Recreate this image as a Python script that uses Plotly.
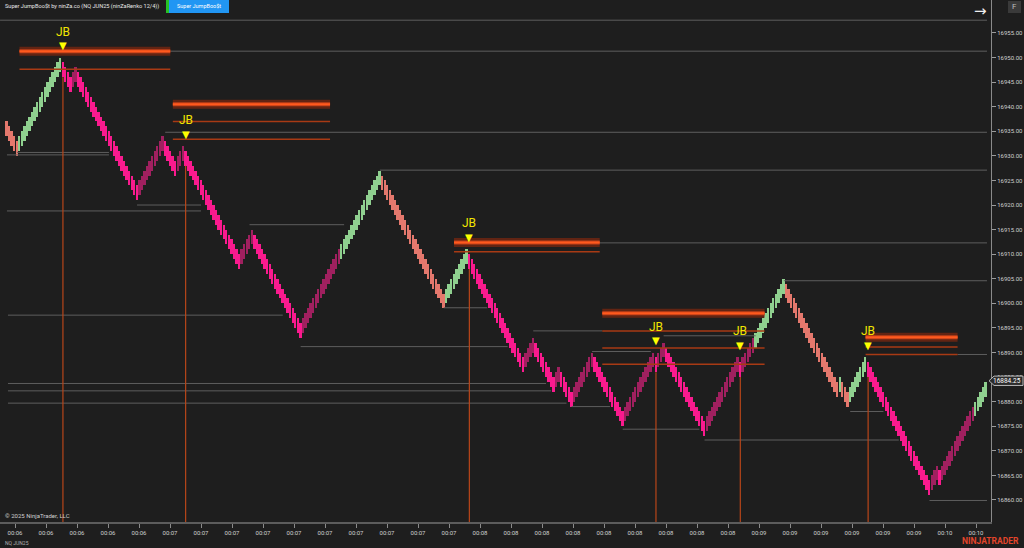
import plotly.graph_objects as go

# ---------------- data ----------------
close = [
    16934, 16933, 16932, 16931, 16930,
    16934, 16935, 16936, 16937, 16938, 16939, 16940, 16941, 16942, 16943, 16944, 16945, 16946, 16947, 16948, 16949, 16950,
    16946, 16945, 16944, 16943,
    16947, 16948,
    16944, 16943, 16942, 16941, 16940, 16939, 16938, 16937, 16936, 16935, 16934, 16933, 16932, 16931, 16930, 16929,
    16928, 16927, 16926, 16925, 16924, 16923, 16922, 16921,
    16925, 16926, 16927, 16928, 16929, 16930, 16931, 16932, 16933, 16934,
    16930, 16929, 16928, 16927, 16926,
    16930, 16931, 16932,
    16928, 16927, 16926, 16925, 16924, 16923, 16922, 16921, 16920, 16919, 16918, 16917, 16916, 16915, 16914, 16913,
    16912, 16911, 16910, 16909, 16908, 16907,
    16911, 16912, 16913, 16914, 16915,
    16911, 16910, 16909, 16908, 16907, 16906, 16905, 16904, 16903, 16902, 16901, 16900, 16899, 16898, 16897, 16896,
    16895, 16894, 16893,
    16897, 16898, 16899, 16900, 16901, 16902, 16903, 16904, 16905, 16906, 16907, 16908, 16909, 16910, 16911, 16912,
    16913, 16914, 16915, 16916, 16917, 16918, 16919, 16920, 16921, 16922, 16923, 16924, 16925, 16926, 16927,
    16923, 16922, 16921, 16920, 16919, 16918, 16917, 16916, 16915, 16914, 16913, 16912, 16911, 16910, 16909, 16908,
    16907, 16906, 16905, 16904, 16903, 16902, 16901, 16900, 16899,
    16903, 16904, 16905, 16906, 16907, 16908, 16909, 16910, 16911,
    16907, 16906, 16905, 16904, 16903, 16902, 16901, 16900, 16899, 16898, 16897, 16896, 16895, 16894, 16893, 16892,
    16891, 16890, 16889, 16888, 16887, 16886,
    16890, 16891, 16892, 16893,
    16889, 16888, 16887, 16886, 16885, 16884, 16883, 16882,
    16886, 16887,
    16883, 16882, 16881, 16880, 16879,
    16883, 16884, 16885, 16886, 16887, 16888, 16889, 16890,
    16886, 16885, 16884, 16883, 16882, 16881, 16880, 16879, 16878, 16877, 16876, 16875,
    16879, 16880, 16881, 16882, 16883, 16884, 16885, 16886, 16887, 16888, 16889, 16890,
    16886,
    16890, 16891, 16892,
    16888, 16887, 16886, 16885, 16884, 16883, 16882, 16881, 16880, 16879, 16878, 16877, 16876, 16875, 16874, 16873,
    16877, 16878, 16879, 16880, 16881, 16882, 16883, 16884, 16885, 16886, 16887, 16888, 16889,
    16885,
    16889, 16890, 16891, 16892, 16893, 16894, 16895, 16896, 16897, 16898, 16899, 16900, 16901, 16902, 16903, 16904, 16905,
    16901, 16900, 16899, 16898, 16897, 16896, 16895, 16894, 16893, 16892, 16891, 16890, 16889, 16888, 16887, 16886,
    16885, 16884, 16883, 16882, 16881,
    16885,
    16881, 16880, 16879,
    16883, 16884, 16885, 16886, 16887, 16888, 16889,
    16885, 16884, 16883, 16882, 16881, 16880, 16879, 16878, 16877, 16876, 16875, 16874, 16873, 16872, 16871, 16870,
    16869, 16868, 16867, 16866, 16865, 16864, 16863, 16862, 16861,
    16865, 16866, 16867,
    16863,
    16867, 16868, 16869, 16870, 16871, 16872, 16873, 16874, 16875, 16876, 16877, 16878, 16879, 16880, 16881, 16882,
    16883, 16884,
]
brick = 3
last_price = 16884.25

zone_start = [0, 22, 131, 181, 293, 337, 379]
zone_kind = ["bull", "bear", "bull", "bear", "bull", "bear", "bull"]

jb_bars = [22, 70, 181, 254, 287, 337]

gray_x0 = [-2.6, 64, 62, 4, 0.1, 51, 0.1, 146, 95, 180, 304, 0.5, 171, 115, 206, 229, 257, 0.5, 0.5, 0.5, 221, 241, 273, 330, 361, 372]
gray_x1 = [383.5, 383.5, 383.5, 40, 40, 76, 76, 383.5, 132, 383.5, 383.5, 108, 188, 196, 233, 252, 293, 211, 213, 219, 236, 271, 349, 343, 383.5, 383.5]
gray_y = [16957.6, 16951.3, 16934.8, 16930.7, 16930.2, 16920.0, 16918.8, 16927.1, 16916.0, 16912.3, 16904.6, 16897.6,
          16899.1, 16891.2, 16894.4, 16890.2, 16893.4, 16883.7, 16882.2, 16879.7, 16879.0, 16874.4, 16872.2, 16878.0,
          16859.9, 16889.6]

band_x0 = [5, 65, 175, 233, 336]
band_x1 = [64, 126.5, 232, 296.5, 372]
band_y = [16951.3, 16940.5, 16912.4, 16898.0, 16893.1]
thin_of = [0, 1, 1, 2, 3, 3, 3, 4, 4]
thin_y = [16947.6, 16937.0, 16933.4, 16910.5, 16894.4, 16890.9, 16887.6, 16891.1, 16889.6]

y_ticks = [16860, 16865, 16870, 16875, 16880, 16885, 16890, 16895, 16900, 16905, 16910, 16915, 16920, 16925,
           16930, 16935, 16940, 16945, 16950, 16955]
x_tick_text = ["00:06", "00:06", "00:06", "00:06", "00:06",
               "00:07", "00:07", "00:07", "00:07", "00:07", "00:07", "00:07", "00:07", "00:07", "00:07",
               "00:08", "00:08", "00:08", "00:08", "00:08", "00:08", "00:08", "00:08", "00:08",
               "00:09", "00:09", "00:09", "00:09", "00:09", "00:09",
               "00:10", "00:10"]

# ---------------- layout geometry ----------------
W, H = 1024, 548
PLOT_W, PLOT_H = 991, 522
FIRST_PX, LAST_PX = 6.7, 985.7
n = len(close)
bar_px = (LAST_PX - FIRST_PX) / (n - 1)
x_range = [-FIRST_PX / bar_px, (PLOT_W - FIRST_PX) / bar_px]
y_range = [16855.52, 16961.71]
tick_pos = [(15 + 31 * k - FIRST_PX) / bar_px for k in range(len(x_tick_text))]

BG = "#1e1e1e"
COLORS = {("bull", True): "#8fd08f", ("bull", False): "#e4786d",
          ("bear", True): "#a0205f", ("bear", False): "#fa1a8e"}


def zone_of(i):
    k = 0
    for j, s in enumerate(zone_start):
        if i >= s:
            k = j
    return zone_kind[k]


up = [i > 0 and close[i] > close[i - 1] for i in range(n)]
body_lo = [c - brick if u else c for c, u in zip(close, up)]
colors = [COLORS[(zone_of(i), up[i])] for i in range(n)]

fig = go.Figure()


def seg_trace(x0s, x1s, ys, color, width):
    xs, yy = [], []
    for a, b, y in zip(x0s, x1s, ys):
        xs += [a, b, None]
        yy += [y, y, None]
    return go.Scatter(x=xs, y=yy, mode="lines", line=dict(color=color, width=width),
                      hoverinfo="skip", showlegend=False)


# gray level lines
fig.add_trace(seg_trace(gray_x0, gray_x1, gray_y, "#5e5e5e", 1))

# thin orange lines
fig.add_trace(seg_trace([band_x0[k] for k in thin_of], [band_x1[k] for k in thin_of], thin_y, "#a83a14", 1.5))

# thick bands
fig.add_trace(seg_trace(band_x0, band_x1, band_y, "rgba(110,38,18,0.85)", 9))
fig.add_trace(seg_trace(band_x0, band_x1, band_y, "#c2401a", 4))
fig.add_trace(seg_trace(band_x0, band_x1, band_y, "#ff5a1e", 2))

# vertical JB lines
vx, vy = [], []
for j in jb_bars:
    vx += [j, j, None]
    vy += [close[j], y_range[0], None]
fig.add_trace(go.Scatter(x=vx, y=vy, mode="lines", line=dict(color="#b8461a", width=1.2),
                         hoverinfo="skip", showlegend=False))

# renko bricks
fig.add_trace(go.Bar(x=list(range(n)), y=[brick] * n, base=body_lo, width=0.72,
                     marker=dict(color=colors, line=dict(width=0)), hoverinfo="skip", showlegend=False))

annotations = []
for j in jb_bars:
    hi = max(close[j - 1], close[j] + brick)
    annotations.append(dict(x=j, y=hi, xref="x", yref="y", text="▼", showarrow=False,
                            font=dict(color="#ffff00", size=10, family="DejaVu Sans"), yshift=12))
    annotations.append(dict(x=j, y=hi, xref="x", yref="y", text="JB", showarrow=False,
                            font=dict(color="#f2e400", size=12, family="Roboto"), yshift=26))


def px(x):
    return x / PLOT_W


def py(y):
    return 1 - y / PLOT_H


annotations += [
    dict(x=px(3), y=py(6.5), xref="paper", yref="paper", xanchor="left", yanchor="middle", showarrow=False,
         text="Super JumpBoo$t by ninZa.co (NQ JUN25 (ninZaRenko 12/4))",
         font=dict(color="#e6e6e6", size=5.6, family="Roboto")),
    dict(x=px(199), y=py(6.5), xref="paper", yref="paper", xanchor="center", yanchor="middle", showarrow=False,
         text="Super JumpBoo$t", font=dict(color="#ffffff", size=5.5, family="Roboto")),
    dict(x=px(980), y=py(11), xref="paper", yref="paper", xanchor="center", yanchor="middle", showarrow=False,
         text="→", font=dict(color="#f0f0f0", size=15, family="DejaVu Sans")),
    dict(x=px(1014.5), y=py(6.5), xref="paper", yref="paper", xanchor="center", yanchor="middle", showarrow=False,
         text="F", font=dict(color="#bdbdbd", size=8, family="Roboto")),
    dict(x=px(3), y=py(515), xref="paper", yref="paper", xanchor="left", yanchor="middle", showarrow=False,
         text="© 2025 NinjaTrader, LLC", font=dict(color="#cfcfcf", size=6, family="Roboto")),
    dict(x=px(3), y=py(543), xref="paper", yref="paper", xanchor="left", yanchor="middle", showarrow=False,
         text="NQ JUN25", font=dict(color="#b0b0b0", size=5, family="Roboto")),
    dict(x=px(1021), y=py(541), xref="paper", yref="paper", xanchor="right", yanchor="middle", showarrow=False,
         text="<b>NINJATRADER</b>", font=dict(color="#e2452b", size=8.5, family="Roboto")),
    dict(x=px(1007), y=last_price, xref="paper", yref="y", xanchor="center", yanchor="middle", showarrow=False,
         text=f"{last_price:.2f}", font=dict(color="#ffffff", size=6.5, family="Roboto")),
]

shapes = [
    dict(type="rect", xref="paper", yref="paper", x0=px(166), x1=px(169), y0=py(13), y1=py(0),
         fillcolor="#27c227", line=dict(width=0)),
    dict(type="rect", xref="paper", yref="paper", x0=px(169), x1=px(229), y0=py(13), y1=py(0),
         fillcolor="#2196f3", line=dict(width=0)),
    dict(type="rect", xref="paper", yref="paper", x0=px(1008), x1=px(1021), y0=py(13), y1=py(1),
         fillcolor="#3a3a3a", line=dict(width=0)),
    dict(type="path", xref="paper", yref="y", layer="above",
         path=(f"M {px(989)},{last_price} L {px(994)},{last_price + 0.95} L {px(1023)},{last_price + 0.95} "
               f"L {px(1023)},{last_price - 0.95} L {px(994)},{last_price - 0.95} Z"),
         fillcolor="#2c2c2c", line=dict(color="#b8b8b8", width=1)),
]

fig.update_layout(
    width=W, height=H,
    margin=dict(l=0, r=W - PLOT_W, t=0, b=H - PLOT_H, pad=0),
    paper_bgcolor=BG, plot_bgcolor=BG,
    bargap=0, showlegend=False,
    annotations=annotations, shapes=shapes,
    xaxis=dict(range=x_range, tickmode="array", tickvals=tick_pos, ticktext=x_tick_text,
               showgrid=False, zeroline=False, showline=True, linecolor="#5c5c5c", linewidth=2,
               ticks="outside", ticklen=4, tickcolor="#8a8a8a", tickwidth=1,
               tickfont=dict(color="#d0d0d0", size=6, family="Roboto"), fixedrange=True),
    yaxis=dict(range=y_range, side="right", tickmode="array", tickvals=y_ticks, tickformat=".2f",
               showgrid=False, zeroline=False, showline=True, linecolor="#8a8a8a", linewidth=1,
               ticks="outside", ticklen=4, tickcolor="#9a9a9a", tickwidth=1,
               tickfont=dict(color="#d0d0d0", size=6, family="Roboto"), fixedrange=True),
)

fig.write_html("out.html", config={"displayModeBar": False},
               post_script="document.body.style.margin='0px';document.body.style.background='#1e1e1e';"
                           "document.body.style.overflow='hidden';")
